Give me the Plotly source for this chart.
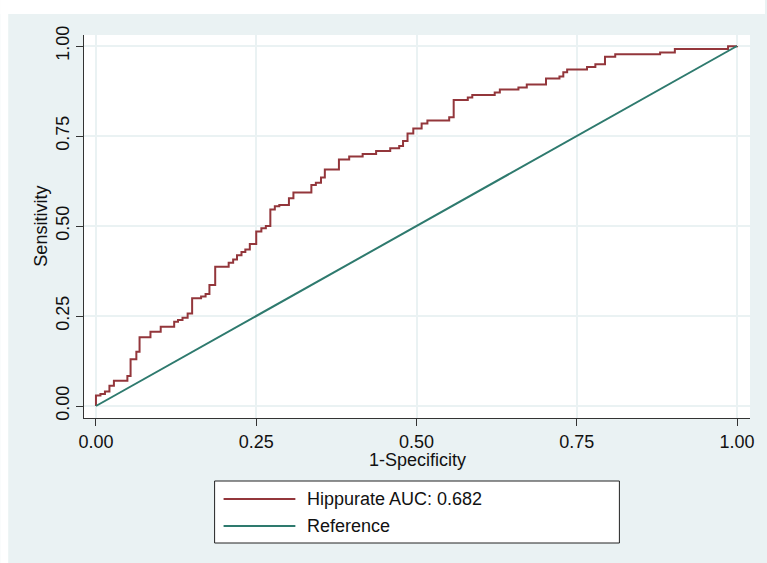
import plotly.graph_objects as go

# ROC curve coordinates (1-specificity, sensitivity) at each step
fpr = [0, 0, 0.007, 0.014, 0.021, 0.028, 0.049, 0.054, 0.063, 0.068, 0.085, 0.101,
       0.122, 0.128, 0.135, 0.143, 0.150, 0.164, 0.171, 0.177, 0.186, 0.207, 0.214,
       0.220, 0.227, 0.233, 0.240, 0.250, 0.258, 0.265, 0.272, 0.279, 0.286, 0.301,
       0.308, 0.336, 0.343, 0.351, 0.357, 0.379, 0.395, 0.416, 0.437, 0.459, 0.473,
       0.479, 0.486, 0.495, 0.508, 0.517, 0.551, 0.558, 0.580, 0.587, 0.622, 0.630,
       0.659, 0.672, 0.702, 0.723, 0.729, 0.735, 0.766, 0.779, 0.794, 0.810, 0.880,
       0.903, 0.986, 1.0]
tpr = [0, 0.029, 0.033, 0.040, 0.056, 0.070, 0.083, 0.130, 0.151, 0.191, 0.206, 0.220,
       0.234, 0.239, 0.245, 0.257, 0.299, 0.304, 0.311, 0.336, 0.387, 0.398, 0.407,
       0.419, 0.428, 0.435, 0.450, 0.485, 0.494, 0.500, 0.546, 0.555, 0.558, 0.577,
       0.593, 0.614, 0.620, 0.635, 0.657, 0.685, 0.693, 0.700, 0.708, 0.716, 0.722,
       0.736, 0.757, 0.771, 0.785, 0.793, 0.802, 0.850, 0.857, 0.864, 0.871, 0.879,
       0.885, 0.893, 0.910, 0.915, 0.927, 0.935, 0.942, 0.949, 0.970, 0.977, 0.982,
       0.992, 0.999, 1.0]

ref_x = [0, 1]
ref_y = [0, 1]

tick_vals = [0, 0.25, 0.5, 0.75, 1.0]
tick_text = ["0.00", "0.25", "0.50", "0.75", "1.00"]

series_names = ["Hippurate AUC: 0.682", "Reference"]
series_colors = ["#93363B", "#2E7A6E"]

W, H = 767, 563
ML, MR, MT, MB = 84, 15, 35, 145
PW, PH = W - ML - MR, H - MT - MB

FONT = "Liberation Sans, Arial, sans-serif"
BG = "#EAF2F3"
TXT = "#111111"


def px_x(p):
    return (p - ML) / PW


def px_y(p):
    return (H - MB - p) / PH


fig = go.Figure()
fig.add_trace(go.Scatter(x=fpr, y=tpr, mode="lines", line_shape="hv",
                         line=dict(color=series_colors[0], width=2),
                         name=series_names[0], showlegend=False))
fig.add_trace(go.Scatter(x=ref_x, y=ref_y, mode="lines",
                         line=dict(color=series_colors[1], width=2),
                         name=series_names[1], showlegend=False))

shapes = [
    # white strips around the outer panel
    dict(type="rect", xref="paper", yref="paper", x0=px_x(0), x1=px_x(W),
         y0=px_y(14), y1=px_y(0), fillcolor="white", line_width=0, layer="above"),
    dict(type="rect", xref="paper", yref="paper", x0=px_x(0), x1=px_x(8),
         y0=px_y(H), y1=px_y(0), fillcolor="white", line_width=0, layer="above"),
    # legend box
    dict(type="rect", xref="paper", yref="paper", x0=px_x(215), x1=px_x(621),
         y0=px_y(543), y1=px_y(481), fillcolor="white",
         line=dict(color="#222222", width=1), layer="above"),
]
annotations = [
    dict(text="1-Specificity", xref="paper", yref="paper", x=0.5, y=px_y(460),
         xanchor="center", yanchor="middle", showarrow=False,
         font=dict(family=FONT, size=18, color=TXT)),
    dict(text="Sensitivity", xref="paper", yref="paper", x=px_x(40), y=0.5,
         xanchor="center", yanchor="middle", showarrow=False, textangle=-90,
         font=dict(family=FONT, size=18, color=TXT)),
]
legend_rows = [499, 526]
for name, color, row in zip(series_names, series_colors, legend_rows):
    shapes.append(dict(type="line", xref="paper", yref="paper", x0=px_x(224),
                       x1=px_x(296), y0=px_y(row), y1=px_y(row),
                       line=dict(color=color, width=2), layer="above"))
    annotations.append(dict(text=name, xref="paper", yref="paper", x=px_x(306),
                            y=px_y(row), xanchor="left", yanchor="middle",
                            showarrow=False,
                            font=dict(family=FONT, size=18, color=TXT)))

axis_common = dict(
    tickvals=tick_vals, ticktext=tick_text, showgrid=True, gridcolor=BG,
    gridwidth=2, zeroline=False, showline=True, linecolor="#333333", linewidth=1,
    ticks="outside", ticklen=7, tickcolor="#333333", tickwidth=1,
    tickfont=dict(family=FONT, size=18, color=TXT),
)

fig.update_layout(
    width=W, height=H,
    margin=dict(l=ML, r=MR, t=MT, b=MB, pad=0),
    paper_bgcolor=BG, plot_bgcolor="white",
    xaxis=dict(range=[(ML - 96) / 643, (ML + PW - 96) / 643], **axis_common),
    yaxis=dict(range=[-(418 - 406) / 360, (406 - 35) / 360], tickangle=-90,
               **axis_common),
    shapes=shapes, annotations=annotations, showlegend=False,
)

fig.write_html("out.html")
